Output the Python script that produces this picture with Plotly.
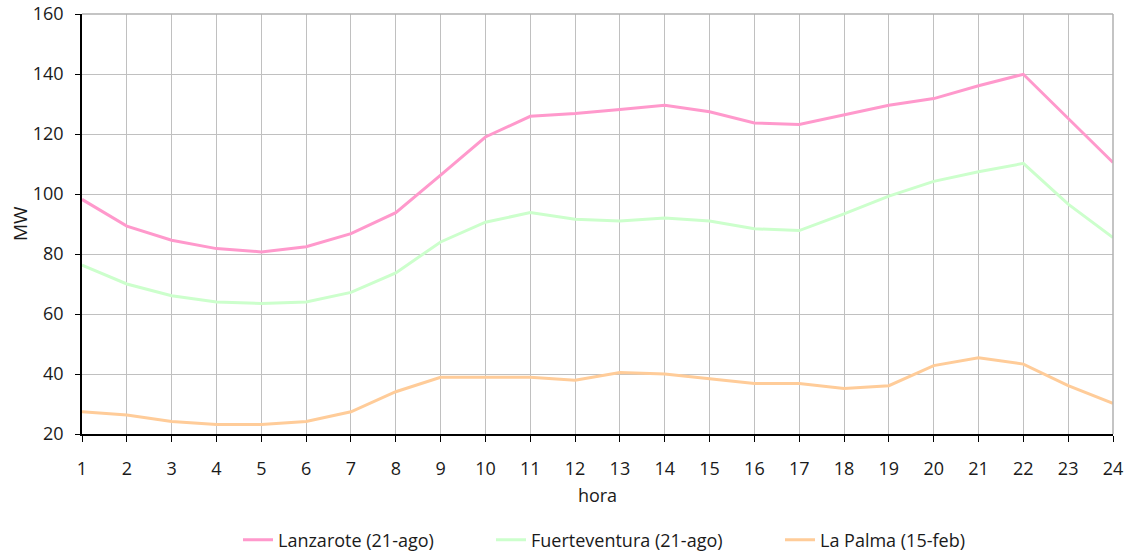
import plotly.graph_objects as go

hours = list(range(1, 25))
lanzarote = [98.2, 89.3, 84.6, 81.8, 80.7, 82.4, 86.8, 93.8, 106.3, 119.0, 125.9, 126.8,
             128.2, 129.6, 127.4, 123.7, 123.2, 126.5, 129.6, 131.8, 136.1, 139.9, 125.2, 110.5]
fuerteventura = [76.3, 70.0, 66.1, 64.0, 63.5, 64.0, 67.2, 73.7, 84.0, 90.6, 93.8, 91.6,
                 91.0, 92.0, 91.0, 88.4, 87.8, 93.4, 99.3, 104.2, 107.4, 110.2, 96.6, 85.5]
la_palma = [27.4, 26.3, 24.2, 23.2, 23.2, 24.2, 27.4, 34.1, 38.9, 38.9, 38.9, 37.9,
            40.5, 40.0, 38.3, 36.8, 36.8, 35.2, 36.1, 42.8, 45.4, 43.3, 36.1, 30.2]

series = [
    ("Lanzarote (21-ago)", lanzarote, "#FF99CC", "legend"),
    ("Fuerteventura (21-ago)", fuerteventura, "#CCFFCC", "legend2"),
    ("La Palma (15-feb)", la_palma, "#FFCC99", "legend3"),
]

fig = go.Figure()
for name, vals, color, lg in series:
    fig.add_trace(go.Scatter(x=hours, y=vals, mode="lines", name=name, legend=lg,
                             line=dict(color=color, width=3)))

W, H = 1127, 554
font_family = "Open Sans, Noto Sans, sans-serif"
legend_common = dict(orientation="h", xref="container", yref="container", xanchor="left",
                     y=1 - 540 / H, yanchor="middle", font=dict(size=18),
                     bgcolor="rgba(0,0,0,0)", borderwidth=0)
fig.update_layout(
    width=W, height=H,
    margin=dict(l=82, r=W - 1113, t=14, b=H - 434),
    paper_bgcolor="white", plot_bgcolor="white",
    font=dict(family=font_family, size=18, color="#1a1a1a"),
    showlegend=True,
    legend=dict(x=238 / W, **legend_common),
    legend2=dict(x=491 / W, **legend_common),
    legend3=dict(x=780 / W, **legend_common),
    xaxis=dict(range=[1, 24], tickmode="array", tickvals=hours, ticktext=[str(h) for h in hours],
               showgrid=True, gridcolor="#c0c0c0", gridwidth=1,
               showline=True, linecolor="black", linewidth=1.5,
               ticks="outside", ticklen=6, tickcolor="black", ticklabelstandoff=12,
               ticklabeloverflow="allow",
               title=dict(text="hora", standoff=10, font=dict(size=18)),
               zeroline=False, automargin=False),
    yaxis=dict(range=[20, 160], tickmode="array", tickvals=list(range(20, 161, 20)),
               showgrid=True, gridcolor="#c0c0c0", gridwidth=1,
               showline=True, linecolor="black", linewidth=1.5,
               ticks="outside", ticklen=5, tickcolor="black", ticklabelstandoff=8,
               ticklabeloverflow="allow",
               zeroline=False, automargin=False),
)
fig.add_annotation(text="MW", xref="paper", yref="paper", x=(20 - 82) / (1113 - 82), y=0.5,
                   xanchor="center", yanchor="middle", textangle=-90, showarrow=False,
                   font=dict(size=19, family=font_family, color="#1a1a1a"))
fig.add_shape(type="line", xref="paper", yref="paper", x0=1, x1=1, y0=0, y1=1,
              line=dict(color="#b0b0b0", width=1.5))
fig.add_shape(type="line", xref="paper", yref="paper", x0=0, x1=1, y0=1, y1=1,
              line=dict(color="#b0b0b0", width=1.5))

fig.write_html("out.html", config={"displayModeBar": False},
               post_script="document.body.style.margin='0';document.body.style.overflow='hidden';")
